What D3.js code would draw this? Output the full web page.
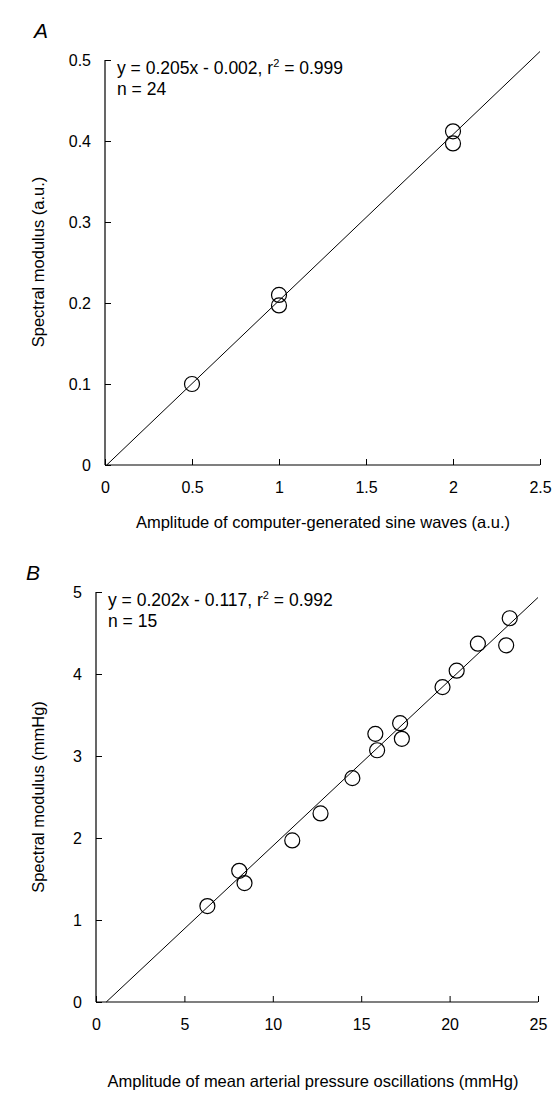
<!DOCTYPE html>
<html><head><meta charset="utf-8">
<script src="https://cdn.jsdelivr.net/npm/d3@7"></script>
<style>body{margin:0;background:#fff}svg{display:block}text{font-family:"Liberation Sans",Arial,sans-serif;fill:#000}</style>
</head><body><svg id="c" width="555" height="1096"></svg>
<script>
// Panel A data
const aX = [0.5, 1, 1, 2, 2];
const aY = [0.1, 0.21, 0.197, 0.412, 0.397];
const aXTicks = [0, 0.5, 1, 1.5, 2, 2.5];
const aYTicks = [0, 0.1, 0.2, 0.3, 0.4, 0.5];
const aFit = [0.205, -0.002];
// Panel B data
const bX = [6.3, 8.1, 8.4, 11.1, 12.7, 14.5, 15.8, 15.9, 17.2, 17.3, 19.6, 20.4, 21.6, 23.2, 23.4];
const bY = [1.17, 1.6, 1.45, 1.97, 2.3, 2.73, 3.27, 3.07, 3.4, 3.21, 3.84, 4.04, 4.37, 4.35, 4.68];
const bXTicks = [0, 5, 10, 15, 20, 25];
const bYTicks = [0, 1, 2, 3, 4, 5];
const bFit = [0.202, -0.117];

const svg = d3.select("#c");

function panel(o){
  const g = svg.append("g");
  const x = d3.scaleLinear().domain(o.xd).range([o.l, o.r]);
  const y = d3.scaleLinear().domain(o.yd).range([o.b, o.t]);
  const ya = d3.axisLeft(y).tickValues(o.yt).tickSize(-6).tickPadding(14).tickFormat(d=>String(d));
  const xa = d3.axisBottom(x).tickValues(o.xt).tickSize(-6).tickPadding(17).tickFormat(d=>String(d));
  const gy = g.append("g").attr("transform",`translate(${o.l},0)`).call(ya);
  const gx = g.append("g").attr("transform",`translate(0,${o.b})`).call(xa);
  [gy,gx].forEach(a=>{
    a.select(".domain").remove();
    a.selectAll("line").attr("stroke","#000").attr("stroke-width",1);
    a.selectAll("text").attr("font-size",16).style("font-family","'Liberation Sans',Arial,sans-serif");
  });
  g.append("line").attr("x1",o.l).attr("x2",o.l).attr("y1",y(o.yd[1])).attr("y2",y(o.yd[0])).attr("stroke","#000").attr("stroke-width",1.2);
  g.append("line").attr("x1",o.l).attr("x2",x(o.xd[1])).attr("y1",o.b).attr("y2",o.b).attr("stroke","#000").attr("stroke-width",1.2);
  // fit line
  const x0 = Math.max(o.xd[0], (o.yd[0]-o.fit[1])/o.fit[0]);
  const x1 = o.xd[1];
  g.append("line").attr("x1",x(x0)).attr("y1",y(o.fit[0]*x0+o.fit[1]))
    .attr("x2",x(x1)).attr("y2",y(o.fit[0]*x1+o.fit[1])).attr("stroke","#000").attr("stroke-width",1);
  // points
  g.selectAll("circle.p").data(o.px.map((v,i)=>[v,o.py[i]])).enter().append("circle")
    .attr("cx",d=>x(d[0])).attr("cy",d=>y(d[1])).attr("r",7.5)
    .attr("fill","none").attr("stroke","#000").attr("stroke-width",1.2);
  // equation
  const eq = g.append("text").attr("x",o.l+12).attr("y",o.t+14).attr("font-size",17.5);
  eq.append("tspan").text(o.eq1);
  eq.append("tspan").attr("font-size",11).attr("dy",-7).text("2");
  eq.append("tspan").attr("dy",7).text(o.eq2);
  g.append("text").attr("x",o.l+12).attr("y",o.t+35).attr("font-size",17.5).text(o.n);
  // letter
  g.append("text").attr("x",o.lx).attr("y",o.ly).attr("font-size",21).attr("font-style","italic").text(o.letter);
  // titles
  g.append("text").attr("x",o.xtx).attr("y",o.xty).attr("text-anchor","middle").attr("font-size",16.5).text(o.xtitle);
  g.append("text").attr("transform",`translate(${o.ytx},${o.yty}) rotate(-90)`).attr("text-anchor","middle").attr("font-size",16.5).text(o.ytitle);
}

panel({xd:[0,2.5], yd:[0,0.5], l:105, r:540, t:60, b:465, xt:aXTicks, yt:aYTicks,
  px:aX, py:aY, fit:aFit, eq1:"y = 0.205x - 0.002, r", eq2:" = 0.999", n:"n = 24",
  letter:"A", lx:34, ly:38, xtitle:"Amplitude of computer-generated sine waves (a.u.)", xtx:323, xty:528,
  ytitle:"Spectral modulus (a.u.)", ytx:44, yty:262});
panel({xd:[0,25], yd:[0,5], l:96, r:538, t:592, b:1002, xt:bXTicks, yt:bYTicks,
  px:bX, py:bY, fit:bFit, eq1:"y = 0.202x - 0.117, r", eq2:" = 0.992", n:"n = 15",
  letter:"B", lx:26, ly:580, xtitle:"Amplitude of mean arterial pressure oscillations (mmHg)", xtx:313, xty:1087,
  ytitle:"Spectral modulus (mmHg)", ytx:44, yty:797});
</script></body></html>
